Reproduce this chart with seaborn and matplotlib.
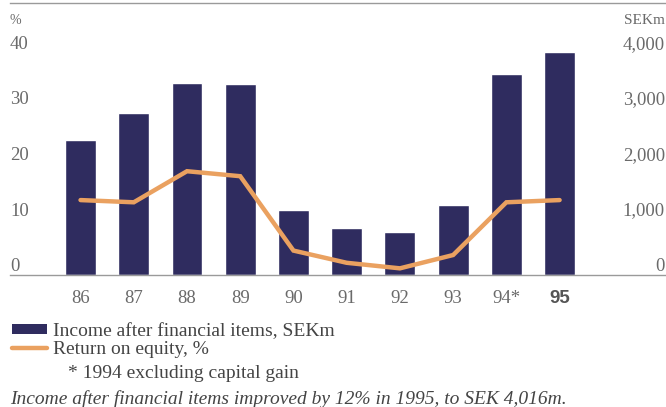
import numpy as np
import pandas as pd
import matplotlib
matplotlib.use("Agg")
import matplotlib.pyplot as plt
from matplotlib.lines import Line2D
from matplotlib.patches import Patch
import seaborn as sns

# Data
years = ["86", "87", "88", "89", "90", "91", "92", "93", "94*", "95"]
income_sekm = [2430, 2920, 3460, 3440, 1170, 850, 780, 1260, 3620, 4016]
roe_pct = [13.5, 13.1, 18.7, 17.8, 4.4, 2.2, 1.2, 3.6, 13.1, 13.5]
pct_ticks = [0, 10, 20, 30, 40]
sek_ticks = [0, 1000, 2000, 3000, 4000]
sek_labels = ["0", "1,000", "2,000", "3,000", "4,000"]

BAR = "#2f2c5f"
LINE = "#eaa160"
TXT = "#6a6a6a"
SERIF = "Liberation Serif"
FS = 14

sns.set_theme(style="white")
plt.rcParams["font.family"] = [SERIF, "DejaVu Serif"]

fig = plt.figure(figsize=(6.66, 4.07), dpi=100)
ax = fig.add_axes([10 / 666, 1 - 275 / 407, 655 / 666, 272 / 407])

df = pd.DataFrame({"year": years, "income": income_sekm})
sns.barplot(data=df, x="year", y="income", order=years, color=BAR,
            saturation=1, width=0.58, ax=ax, zorder=2)

ax2 = ax.twinx()
pos = np.arange(len(years))
sns.lineplot(x=pos, y=roe_pct, ax=ax2, color=LINE, linewidth=3.2,
             solid_joinstyle="miter", zorder=3)

top_units = 272 / 55.5
ax.set_ylim(0, top_units * 1000)
ax2.set_ylim(0, top_units * 10)
ax.set_xlim(-1.325, 10.98)

# SEKm axis on the right, percent axis on the left
ax.yaxis.tick_right()
ax.set_yticks(sek_ticks)
ax.set_yticklabels(sek_labels)
ax.tick_params(axis="y", length=0, pad=0, labelsize=FS - 0.5, labelcolor=TXT)
for t in ax.get_yticklabels():
    t.set_horizontalalignment("right")
    t.set_verticalalignment("bottom")

ax2.yaxis.tick_left()
ax2.set_yticks(pct_ticks)
ax2.set_yticklabels([str(v) for v in pct_ticks])
ax2.tick_params(axis="y", length=0, pad=0, labelsize=FS - 0.5, labelcolor=TXT)
for t in ax2.get_yticklabels():
    t.set_horizontalalignment("left")
    t.set_verticalalignment("bottom")

ax.set_xticks(pos)
ax.set_xticklabels(years)
ax.tick_params(axis="x", length=0, pad=11, labelsize=FS - 0.5, labelcolor=TXT)
last = ax.get_xticklabels()[-1]
last.set_fontfamily("Liberation Sans")
last.set_fontweight("bold")
last.set_color("#555555")

ax.set_xlabel("")
ax.set_ylabel("")
ax2.set_ylabel("")
for a in (ax, ax2):
    for s in ("left", "right", "top", "bottom"):
        a.spines[s].set_visible(False)
    a.grid(False)
for s in ("top", "bottom"):
    ax.spines[s].set_visible(True)
    ax.spines[s].set_color("#9a9a9a")
    ax.spines[s].set_linewidth(1.0)

fig.text(10 / 666, 1 - 20 / 407, "%", ha="left", va="center", fontsize=10, color=TXT)
fig.text(665 / 666, 1 - 20 / 407, "SEKm", ha="right", va="center", fontsize=11, color=TXT)

handles = [Patch(facecolor=BAR, edgecolor="none"),
           Line2D([0], [0], color=LINE, linewidth=3.2)]
labels = ["Income after financial items, SEKm", "Return on equity, %"]
fig.legend(handles, labels, loc="upper left", bbox_to_anchor=(12 / 666, 1 - 323 / 407),
           frameon=False, fontsize=FS, handlelength=1.8, handleheight=0.4,
           handletextpad=0.3, labelspacing=0.05, borderpad=0, borderaxespad=0,
           labelcolor="#444444")

fig.text(68 / 666, 1 - 373 / 407, "* 1994 excluding capital gain", ha="left", va="center",
         fontsize=FS, color="#444444")
fig.text(10 / 666, 1 - 399 / 407,
         "Income after financial items improved by 12% in 1995, to SEK 4,016m.",
         ha="left", va="center", fontsize=FS, style="italic", color="#444444")

fig.savefig("out.png", dpi=100)
